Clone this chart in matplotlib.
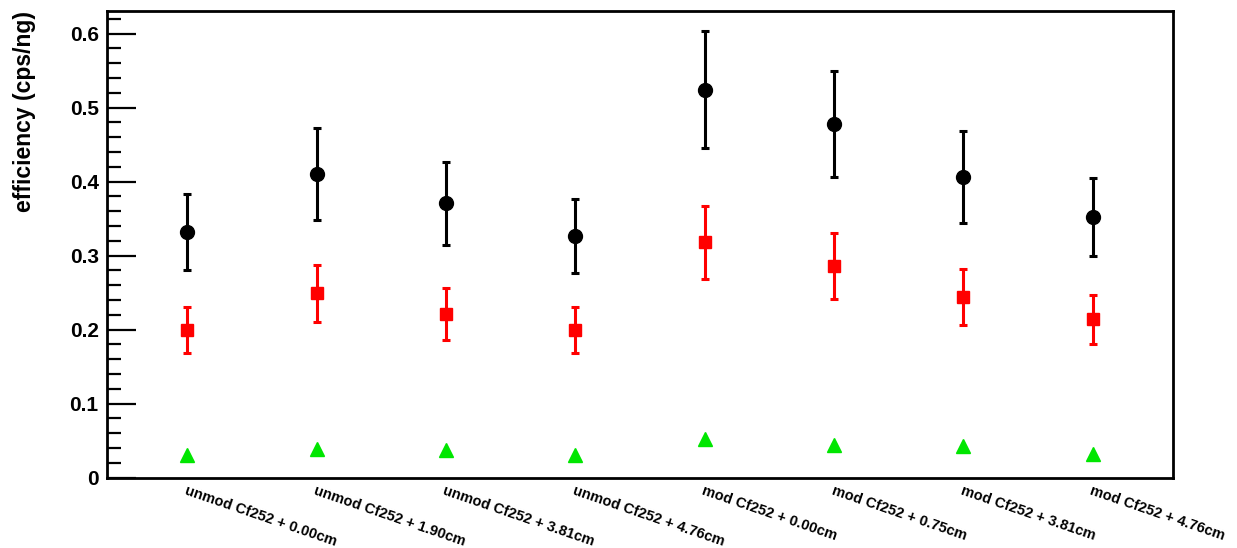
import numpy as np
import matplotlib.pyplot as plt
from matplotlib.ticker import MultipleLocator, FuncFormatter

plt.rcParams["font.family"] = ["Liberation Sans", "DejaVu Sans"]

configs = [
    "unmod Cf252 + 0.00cm",
    "unmod Cf252 + 1.90cm",
    "unmod Cf252 + 3.81cm",
    "unmod Cf252 + 4.76cm",
    "mod Cf252 + 0.00cm",
    "mod Cf252 + 0.75cm",
    "mod Cf252 + 3.81cm",
    "mod Cf252 + 4.76cm",
]

# efficiency per configuration, three detector cuts
eff_total = [0.332, 0.410, 0.371, 0.327, 0.524, 0.478, 0.406, 0.352]
err_total = [0.051, 0.062, 0.056, 0.050, 0.079, 0.072, 0.062, 0.053]
eff_mid = [0.199, 0.249, 0.221, 0.200, 0.318, 0.286, 0.244, 0.214]
err_mid = [0.031, 0.038, 0.035, 0.031, 0.049, 0.044, 0.038, 0.033]
eff_low = [0.031, 0.039, 0.037, 0.031, 0.052, 0.044, 0.043, 0.032]

x = np.arange(len(configs))

fig = plt.figure(figsize=(12.37, 5.48), dpi=100)
ax = fig.add_axes([0.0865, 0.1283, 0.8618, 0.8522])

ax.errorbar(x, eff_total, yerr=err_total, fmt="o", color="black", ms=10,
            elinewidth=2.2, capsize=3, capthick=2.2)
ax.errorbar(x, eff_mid, yerr=err_mid, fmt="s", color="#ff0000", ms=9,
            elinewidth=2.2, capsize=3, capthick=2.2)
ax.plot(x, eff_low, "^", color="#00e600", ms=9.5, mec="#00e600")

ax.set_xlim(-0.62, 7.62)
ax.set_ylim(0, 0.631)

ax.yaxis.set_major_locator(MultipleLocator(0.1))
ax.yaxis.set_minor_locator(MultipleLocator(0.02))
ax.yaxis.set_major_formatter(FuncFormatter(lambda v, p: f"{v:g}"))
ax.tick_params(axis="y", which="major", direction="in", length=21, width=1.6,
               pad=6, labelsize=15)
ax.tick_params(axis="y", which="minor", direction="in", length=10, width=1.6)
for lab in ax.get_yticklabels():
    lab.set_fontweight("bold")

ax.set_xticks(x)
ax.set_xticklabels(configs, rotation=-19, ha="left", va="top",
                   rotation_mode="anchor", fontsize=10.5, fontweight="bold")
ax.tick_params(axis="x", length=0, pad=4)

for side in ax.spines.values():
    side.set_linewidth(2)

ax.set_ylabel("efficiency (cps/ng)", loc="top", fontsize=16.5, fontweight="bold",
              labelpad=24)

fig.savefig("out.png", dpi=100)
